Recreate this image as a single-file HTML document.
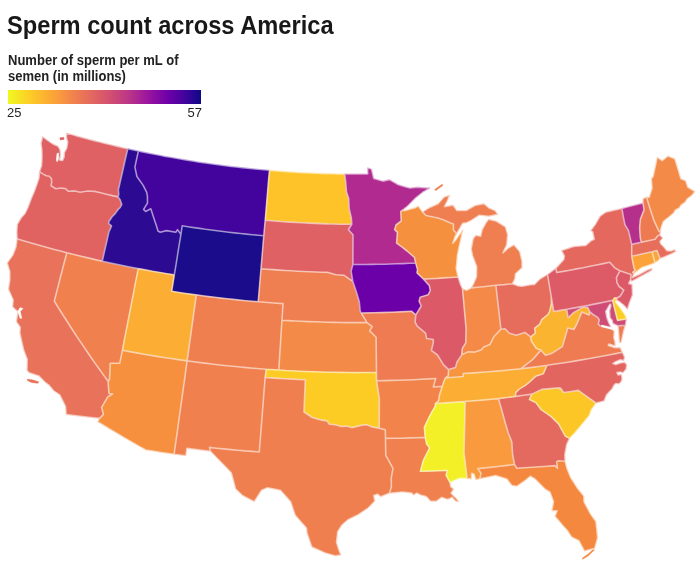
<!DOCTYPE html>
<html lang="en"><head><meta charset="utf-8"><title>Sperm count across America</title>
<style>
html,body{margin:0;padding:0;background:#fff;}
body{width:700px;height:568px;overflow:hidden;position:relative;font-family:"Liberation Sans",sans-serif;color:#181818;}
h1{position:absolute;left:7px;top:11px;margin:0;font-size:26px;line-height:28px;font-weight:bold;white-space:nowrap;transform-origin:0 0;transform:scaleX(0.91);}
.lt{position:absolute;left:7.5px;top:52px;font-size:14px;line-height:16px;font-weight:bold;color:#222;white-space:nowrap;transform-origin:0 0;transform:scaleX(0.93);}
.bar{position:absolute;left:8px;top:89.5px;width:193px;height:14.5px;background:linear-gradient(to right,#f0f921 0%,#fdca26 12%,#fb9f3a 25%,#ed7953 37%,#d8576b 50%,#bd3786 62%,#9c179e 72%,#7201a8 82%,#46039f 91%,#0d0887 100%);}
.l1,.l2{position:absolute;top:105px;font-size:13px;line-height:15px;color:#262626;}
.l1{left:7px}.l2{left:150px;width:52px;text-align:right}
svg{position:absolute;left:0;top:0}
</style></head><body>
<h1>Sperm count across America</h1>
<div class="lt">Number of sperm per mL of<br>semen (in millions)</div>
<div class="bar"></div><div class="l1">25</div><div class="l2">57</div>
<svg width="700" height="568" viewBox="0 0 700 568">
<g stroke-width="0.6" stroke-linejoin="round">
<path d="M42.6,136.5L47.1,139.9L52.9,143.9L58.0,146.2L60.0,149.6L60.6,154.7L59.5,160.0L62.6,160.5L64.1,157.0L64.3,152.5L66.8,147.9L67.7,142.2L66.4,137.6L66.5,133.1L72.0,134.6L77.6,136.2L83.1,137.7L88.7,139.2L94.2,140.6L99.8,142.0L105.4,143.4L111.0,144.8L116.6,146.1L122.2,147.4L127.8,148.7L125.9,156.8L124.0,165.0L122.2,173.2L120.3,181.4L118.4,189.7L118.8,194.2L118.2,196.9L112.3,195.6L106.4,194.2L100.6,192.8L94.7,191.4L87.7,191.0L80.1,192.3L75.1,190.9L68.4,191.3L65.5,188.6L60.8,188.0L55.8,188.8L51.0,185.8L51.7,182.2L51.5,178.6L49.2,176.2L46.3,175.8L42.7,173.9L39.5,171.7L41.5,165.8L41.9,160.8L42.0,154.8L41.8,149.6L41.0,143.4L42.6,136.5Z" fill="#df6163" stroke="#df6163"/>
<path d="M39.5,171.7L42.7,173.9L46.3,175.8L49.2,176.2L51.5,178.6L51.7,182.2L51.0,185.8L55.8,188.8L60.8,188.0L65.5,188.6L68.4,191.3L75.1,190.9L80.1,192.3L87.7,191.0L94.7,191.4L100.6,192.8L106.4,194.2L112.3,195.6L118.2,196.9L120.1,199.7L121.8,204.4L120.2,207.5L117.9,209.7L115.2,213.6L112.1,216.7L108.8,221.8L108.7,223.5L111.5,225.9L110.3,229.0L109.0,231.6L106.8,241.4L104.5,251.3L102.3,261.2L95.2,259.6L88.1,257.9L81.0,256.2L73.9,254.5L66.8,252.7L60.6,251.1L54.3,249.4L48.1,247.7L41.9,246.0L35.7,244.3L29.5,242.5L23.3,240.7L17.1,238.8L16.8,231.8L17.3,224.3L21.3,217.5L25.0,213.5L27.9,207.4L31.4,198.1L34.1,192.0L36.9,184.2L39.0,178.0L39.5,171.7Z" fill="#e06362" stroke="#e06362"/>
<path d="M17.1,238.8L23.3,240.7L29.5,242.5L35.7,244.3L41.9,246.0L48.1,247.7L54.3,249.4L60.6,251.1L66.8,252.7L64.7,260.7L62.6,268.8L60.5,276.8L58.5,284.9L56.4,292.9L54.3,301.0L58.1,307.3L62.0,313.5L66.0,319.8L70.0,326.0L74.0,332.2L78.1,338.4L82.3,344.6L86.5,350.8L90.7,357.0L95.0,363.1L99.4,369.2L103.8,375.4L108.2,381.5L108.3,384.9L109.0,393.5L112.5,394.1L107.9,396.7L101.6,407.3L103.4,414.4L99.5,418.4L91.2,417.5L82.9,416.6L74.5,415.6L66.2,414.6L65.5,406.4L59.7,394.8L53.6,390.8L49.2,385.5L44.5,381.8L38.9,376.1L29.0,372.7L27.0,370.5L27.2,359.4L23.6,349.8L21.7,341.5L19.9,333.2L20.2,327.3L16.3,321.8L17.8,311.9L12.5,306.9L13.2,300.1L8.4,289.2L9.8,280.1L9.8,271.4L7.2,262.9L12.9,254.9L15.9,247.1L17.1,238.8Z" fill="#e8735a" stroke="#e8735a"/>
<path d="M66.8,252.7L73.9,254.5L81.0,256.2L88.1,257.9L95.2,259.6L102.3,261.2L109.4,262.7L116.6,264.3L123.8,265.8L131.0,267.2L138.2,268.6L136.6,276.8L135.0,284.9L133.5,293.1L131.9,301.2L130.3,309.4L128.7,317.6L127.1,325.8L125.5,333.9L123.9,342.1L122.4,350.3L119.7,363.3L115.0,363.3L110.2,363.2L109.9,371.6L109.5,379.2L108.2,381.5L103.8,375.4L99.4,369.2L95.0,363.1L90.7,357.0L86.5,350.8L82.3,344.6L78.1,338.4L74.0,332.2L70.0,326.0L66.0,319.8L62.0,313.5L58.1,307.3L54.3,301.0L56.4,292.9L58.5,284.9L60.5,276.8L62.6,268.8L64.7,260.7L66.8,252.7Z" fill="#f0804e" stroke="#f0804e"/>
<path d="M127.8,148.7L138.4,151.0L136.6,159.1L134.9,167.2L136.9,176.5L143.2,185.4L146.7,192.3L147.4,196.3L147.5,203.0L143.6,209.4L145.6,211.5L150.8,208.8L154.2,219.3L156.0,224.5L158.0,231.0L160.2,232.2L166.5,230.6L175.8,232.3L177.5,229.6L180.9,234.5L179.2,244.6L177.6,254.7L176.0,264.8L174.3,274.9L167.1,273.7L159.9,272.5L152.6,271.3L145.4,269.9L138.2,268.6L131.0,267.2L123.8,265.8L116.6,264.3L109.4,262.7L102.3,261.2L104.5,251.3L106.8,241.4L109.0,231.6L110.3,229.0L111.5,225.9L108.7,223.5L108.8,221.8L112.1,216.7L115.2,213.6L117.9,209.7L120.2,207.5L121.8,204.4L120.1,199.7L118.2,196.9L118.8,194.2L118.4,189.7L120.3,181.4L122.2,173.2L124.0,165.0L125.9,156.8L127.8,148.7Z" fill="#2c0a92" stroke="#2c0a92"/>
<path d="M138.4,151.0L143.8,152.1L149.2,153.2L154.6,154.3L160.0,155.3L165.5,156.4L170.9,157.3L176.3,158.3L181.8,159.2L187.2,160.1L192.7,161.0L198.1,161.9L203.6,162.7L209.1,163.5L214.5,164.3L220.0,165.0L225.5,165.7L231.0,166.4L236.5,167.0L242.0,167.6L247.5,168.2L252.9,168.8L258.4,169.3L263.9,169.8L269.5,170.3L268.7,178.6L268.0,186.9L267.3,195.2L266.6,203.6L265.9,211.9L265.2,220.3L263.8,235.7L258.0,235.2L252.2,234.7L246.3,234.1L240.5,233.5L234.6,232.9L228.8,232.2L223.0,231.5L217.1,230.8L211.3,230.0L205.5,229.3L199.7,228.4L193.9,227.6L188.0,226.7L182.2,225.8L180.9,234.5L177.5,229.6L175.8,232.3L166.5,230.6L160.2,232.2L158.0,231.0L156.0,224.5L154.2,219.3L150.8,208.8L145.6,211.5L143.6,209.4L147.5,203.0L147.4,196.3L146.7,192.3L143.2,185.4L136.9,176.5L134.9,167.2L136.6,159.1L138.4,151.0Z" fill="#43049e" stroke="#43049e"/>
<path d="M180.9,234.5L182.2,225.8L188.0,226.7L193.9,227.6L199.7,228.4L205.5,229.3L211.3,230.0L217.1,230.8L223.0,231.5L228.8,232.2L234.6,232.9L240.5,233.5L246.3,234.1L252.2,234.7L258.0,235.2L263.8,235.7L263.1,243.9L262.4,252.2L261.7,260.4L261.0,268.7L260.3,276.9L259.6,285.2L258.9,293.5L258.2,301.8L252.0,301.2L245.8,300.7L239.6,300.1L233.4,299.4L227.2,298.8L221.0,298.1L214.8,297.3L208.7,296.6L202.5,295.8L196.3,294.9L190.2,294.1L184.0,293.2L177.8,292.3L171.7,291.3L173.0,283.1L174.3,274.9L176.0,264.8L177.6,254.7L179.2,244.6L180.9,234.5Z" fill="#1a0c8b" stroke="#1a0c8b"/>
<path d="M138.2,268.6L145.4,269.9L152.6,271.3L159.9,272.5L167.1,273.7L174.3,274.9L173.0,283.1L171.7,291.3L177.8,292.3L184.0,293.2L190.2,294.1L196.3,294.9L195.2,303.2L194.0,311.4L192.9,319.7L191.7,327.9L190.6,336.1L189.4,344.4L188.3,352.6L187.1,360.9L179.9,359.9L172.7,358.8L165.5,357.7L158.3,356.6L151.1,355.4L143.9,354.2L136.7,352.9L129.5,351.6L122.4,350.3L123.9,342.1L125.5,333.9L127.1,325.8L128.7,317.6L130.3,309.4L131.9,301.2L133.5,293.1L135.0,284.9L136.6,276.8L138.2,268.6Z" fill="#fbae33" stroke="#fbae33"/>
<path d="M122.4,350.3L129.5,351.6L136.7,352.9L143.9,354.2L151.1,355.4L158.3,356.6L165.5,357.7L172.7,358.8L179.9,359.9L187.1,360.9L185.9,369.4L184.8,377.9L183.6,386.4L182.4,394.9L181.2,403.4L180.0,411.8L178.8,420.3L177.7,428.8L176.5,437.3L175.3,445.7L174.1,454.2L167.0,453.2L160.0,452.2L152.9,451.1L145.8,450.0L138.8,446.1L131.8,442.1L124.9,438.1L118.0,434.0L111.1,429.9L104.2,425.8L97.4,421.7L99.5,418.4L103.4,414.4L101.6,407.3L107.9,396.7L112.5,394.1L109.0,393.5L108.3,384.9L108.2,381.5L109.5,379.2L109.9,371.6L110.2,363.2L115.0,363.3L119.7,363.3L122.4,350.3Z" fill="#f6903f" stroke="#f6903f"/>
<path d="M187.1,360.9L193.7,361.8L200.3,362.6L206.9,363.4L213.5,364.2L220.0,365.0L226.6,365.7L233.2,366.3L239.8,367.0L246.4,367.6L253.1,368.2L259.7,368.7L266.3,369.2L265.1,377.5L264.5,385.8L263.8,394.0L263.2,402.3L262.5,410.6L261.9,418.9L261.2,427.2L260.6,435.5L259.9,443.7L259.3,452.0L252.2,451.4L245.0,450.9L237.9,450.2L230.8,449.6L223.7,448.9L216.6,448.2L209.5,447.4L210.4,451.2L202.5,450.3L194.7,449.3L186.9,448.4L185.9,455.7L174.1,454.2L175.3,445.7L176.5,437.3L177.7,428.8L178.8,420.3L180.0,411.8L181.2,403.4L182.4,394.9L183.6,386.4L184.8,377.9L185.9,369.4L187.1,360.9Z" fill="#f0804e" stroke="#f0804e"/>
<path d="M196.3,294.9L202.5,295.8L208.7,296.6L214.8,297.3L221.0,298.1L227.2,298.8L233.4,299.4L239.6,300.1L245.8,300.7L252.0,301.2L258.2,301.8L264.4,302.3L270.6,302.8L276.8,303.2L283.0,303.6L282.5,311.9L282.0,320.2L281.4,328.5L280.9,336.8L280.4,345.1L279.8,353.4L279.3,361.7L278.8,370.0L266.3,369.2L259.7,368.7L253.1,368.2L246.4,367.6L239.8,367.0L233.2,366.3L226.6,365.7L220.0,365.0L213.5,364.2L206.9,363.4L200.3,362.6L193.7,361.8L187.1,360.9L188.3,352.6L189.4,344.4L190.6,336.1L191.7,327.9L192.9,319.7L194.0,311.4L195.2,303.2L196.3,294.9Z" fill="#ef7f4f" stroke="#ef7f4f"/>
<path d="M269.5,170.3L275.2,170.8L281.0,171.2L286.8,171.6L292.6,172.0L298.4,172.4L304.2,172.7L309.9,172.9L315.7,173.2L321.5,173.4L327.3,173.6L333.1,173.7L338.9,173.9L344.7,174.0L345.7,182.1L346.5,191.9L348.7,198.5L349.2,208.8L351.4,218.2L351.8,224.3L345.6,224.3L339.4,224.2L333.2,224.0L327.0,223.9L320.8,223.6L314.6,223.4L308.5,223.1L302.3,222.8L296.1,222.5L289.9,222.1L283.7,221.7L277.5,221.3L271.3,220.8L265.2,220.3L265.9,211.9L266.6,203.6L267.3,195.2L268.0,186.9L268.7,178.6L269.5,170.3Z" fill="#fdc328" stroke="#fdc328"/>
<path d="M265.2,220.3L271.3,220.8L277.5,221.3L283.7,221.7L289.9,222.1L296.1,222.5L302.3,222.8L308.5,223.1L314.6,223.4L320.8,223.6L327.0,223.9L333.2,224.0L339.4,224.2L345.6,224.3L351.8,224.3L348.4,229.7L353.0,234.7L353.0,244.6L352.9,254.5L352.9,264.5L351.1,271.1L352.8,281.2L349.8,279.4L343.8,275.2L335.9,274.7L328.1,272.4L322.0,272.2L315.9,272.0L309.8,271.8L303.7,271.5L297.6,271.2L291.5,270.8L285.4,270.5L279.3,270.1L273.2,269.6L267.1,269.2L261.0,268.7L261.7,260.4L262.4,252.2L263.1,243.9L263.8,235.7L265.2,220.3Z" fill="#df6163" stroke="#df6163"/>
<path d="M261.0,268.7L267.1,269.2L273.2,269.6L279.3,270.1L285.4,270.5L291.5,270.8L297.6,271.2L303.7,271.5L309.8,271.8L315.9,272.0L322.0,272.2L328.1,272.4L335.9,274.7L343.8,275.2L349.8,279.4L352.8,281.2L357.1,294.3L359.3,301.8L360.2,311.0L361.2,313.0L367.0,322.6L360.5,322.6L353.9,322.6L347.4,322.6L340.8,322.5L334.3,322.4L327.7,322.2L321.2,322.0L314.6,321.8L308.1,321.6L301.6,321.3L295.0,321.0L288.5,320.6L282.0,320.2L282.5,311.9L283.0,303.6L276.8,303.2L270.6,302.8L264.4,302.3L258.2,301.8L258.9,293.5L259.6,285.2L260.3,276.9L261.0,268.7Z" fill="#ef7e50" stroke="#ef7e50"/>
<path d="M282.0,320.2L288.5,320.6L295.0,321.0L301.6,321.3L308.1,321.6L314.6,321.8L321.2,322.0L327.7,322.2L334.3,322.4L340.8,322.5L347.4,322.6L353.9,322.6L360.5,322.6L367.0,322.6L372.2,326.7L369.7,330.9L376.1,337.3L376.2,346.1L376.3,354.9L376.4,363.6L376.5,372.4L369.5,372.5L362.5,372.5L355.5,372.6L348.5,372.5L341.5,372.4L334.6,372.3L327.6,372.2L320.6,372.0L313.6,371.8L306.6,371.5L299.7,371.2L292.7,370.8L285.7,370.5L278.8,370.0L279.3,361.7L279.8,353.4L280.4,345.1L280.9,336.8L281.4,328.5L282.0,320.2Z" fill="#f48a47" stroke="#f48a47"/>
<path d="M278.8,370.0L285.7,370.5L292.7,370.8L299.7,371.2L306.6,371.5L313.6,371.8L320.6,372.0L327.6,372.2L334.6,372.3L341.5,372.4L348.5,372.5L355.5,372.6L362.5,372.5L369.5,372.5L376.5,372.4L376.6,380.7L378.0,389.9L379.4,399.0L379.3,408.8L379.3,418.5L379.2,428.3L372.3,426.9L367.1,424.8L362.0,425.1L356.8,426.4L351.7,427.6L346.6,426.1L341.4,426.5L335.4,424.7L329.4,424.3L326.9,420.9L320.9,419.9L312.3,417.5L307.1,414.0L304.0,412.0L304.4,401.3L304.9,390.5L305.3,379.8L298.6,379.5L291.9,379.1L285.2,378.8L278.5,378.4L271.8,377.9L265.1,377.5L266.3,369.2L278.8,370.0Z" fill="#fccc25" stroke="#fccc25"/>
<path d="M265.1,377.5L271.8,377.9L278.5,378.4L285.2,378.8L291.9,379.1L298.6,379.5L305.3,379.8L304.9,390.5L304.4,401.3L304.0,412.0L307.1,414.0L312.3,417.5L320.9,419.9L326.9,420.9L329.4,424.3L335.4,424.7L341.4,426.5L346.6,426.1L351.7,427.6L356.8,426.4L362.0,425.1L367.1,424.8L372.3,426.9L379.2,428.3L385.3,429.7L385.5,438.4L385.6,446.9L385.8,455.4L393.0,468.4L391.2,478.4L391.4,486.7L389.4,493.3L380.6,496.8L377.5,494.2L373.8,495.6L374.9,501.0L368.5,507.8L358.3,514.7L348.0,519.8L342.0,525.0L337.7,531.8L336.5,542.2L338.6,549.1L340.9,555.0L335.6,555.9L325.1,552.9L311.8,547.1L307.0,533.0L306.4,528.1L300.8,521.7L295.2,515.3L290.7,501.9L285.5,496.1L280.4,490.3L267.6,487.7L261.6,490.3L254.2,501.8L242.3,495.4L235.6,489.0L233.5,481.0L231.3,472.9L224.2,465.6L217.1,458.2L210.4,451.2L209.5,447.4L216.6,448.2L223.7,448.9L230.8,449.6L237.9,450.2L245.0,450.9L252.2,451.4L259.3,452.0L259.9,443.7L260.6,435.5L261.2,427.2L261.9,418.9L262.5,410.6L263.2,402.3L263.8,394.0L264.5,385.8L265.1,377.5Z" fill="#f07f4f" stroke="#f07f4f"/>
<path d="M344.7,174.0L350.5,174.0L356.2,174.0L361.9,174.0L367.7,174.0L367.6,167.8L371.5,169.1L373.8,178.5L382.8,181.1L389.4,179.6L398.5,184.7L404.2,186.4L409.9,188.0L417.1,187.1L423.6,187.6L430.1,188.0L422.5,192.5L414.9,198.7L407.3,206.5L402.9,209.9L400.8,211.5L401.2,221.0L396.0,225.0L394.6,229.7L397.4,232.4L396.6,243.2L402.1,247.1L407.0,251.0L414.4,257.3L415.7,263.1L409.4,263.3L403.1,263.6L396.9,263.8L390.6,264.0L384.3,264.2L378.0,264.3L371.7,264.4L365.5,264.5L359.2,264.5L352.9,264.5L352.9,254.5L353.0,244.6L353.0,234.7L348.4,229.7L351.8,224.3L351.4,218.2L349.2,208.8L348.7,198.5L346.5,191.9L345.7,182.1L344.7,174.0Z" fill="#b02a8f" stroke="#b02a8f"/>
<path d="M352.9,264.5L359.2,264.5L365.5,264.5L371.7,264.4L378.0,264.3L384.3,264.2L390.6,264.0L396.9,263.8L403.1,263.6L409.4,263.3L415.7,263.1L417.5,269.6L417.0,272.9L423.5,279.1L429.3,285.6L430.3,290.5L428.1,294.8L420.1,297.2L419.1,301.1L421.2,306.0L415.8,314.9L411.7,311.3L405.4,311.6L399.1,311.9L392.8,312.2L386.5,312.4L380.2,312.6L373.8,312.7L367.5,312.9L361.2,313.0L360.2,311.0L359.3,301.8L357.1,294.3L352.8,281.2L351.1,271.1L352.9,264.5Z" fill="#6c00a8" stroke="#6c00a8"/>
<path d="M361.2,313.0L367.5,312.9L373.8,312.7L380.2,312.6L386.5,312.4L392.8,312.2L399.1,311.9L405.4,311.6L411.7,311.3L415.8,314.9L415.1,322.1L417.2,326.2L425.5,333.2L426.6,338.5L433.3,339.5L433.2,343.1L431.4,350.4L437.5,355.0L443.4,364.7L448.6,369.6L448.2,376.0L445.4,377.9L443.9,381.3L442.2,386.4L433.3,387.0L435.7,378.5L428.4,378.9L421.0,379.3L413.6,379.7L406.2,380.0L398.8,380.2L391.4,380.4L384.0,380.6L376.6,380.7L376.5,372.4L376.4,363.6L376.3,354.9L376.2,346.1L376.1,337.3L369.7,330.9L372.2,326.7L367.0,322.6L361.2,313.0Z" fill="#ee7b51" stroke="#ee7b51"/>
<path d="M376.6,380.7L384.0,380.6L391.4,380.4L398.8,380.2L406.2,380.0L413.6,379.7L421.0,379.3L428.4,378.9L435.7,378.5L433.3,387.0L442.2,386.4L439.5,395.0L438.5,400.9L435.3,403.5L435.4,406.0L431.7,412.1L427.4,420.6L424.3,427.4L425.2,437.4L417.3,437.7L409.3,437.9L401.4,438.2L393.4,438.3L385.5,438.4L385.3,429.7L379.2,428.3L379.3,418.5L379.3,408.8L379.4,399.0L378.0,389.9L376.6,380.7Z" fill="#f2844b" stroke="#f2844b"/>
<path d="M385.5,438.4L393.4,438.3L401.4,438.2L409.3,437.9L417.3,437.7L425.2,437.4L426.5,443.9L429.6,447.9L423.2,460.7L420.4,471.3L429.4,471.1L438.4,470.8L447.4,470.4L446.0,475.2L450.1,482.7L450.7,486.6L453.7,488.9L451.1,493.2L456.3,498.3L459.0,501.6L455.5,501.2L452.0,497.4L447.8,499.5L441.7,497.4L436.5,501.2L430.5,501.2L426.2,496.6L420.4,494.9L416.8,493.1L413.4,495.2L411.7,493.1L402.3,492.0L389.4,493.3L391.4,486.7L391.2,478.4L393.0,468.4L385.8,455.4L385.6,446.9L385.5,438.4Z" fill="#f0804e" stroke="#f0804e"/>
<path d="M435.3,403.5L442.3,403.1L449.4,402.6L456.5,402.1L463.6,401.6L465.1,403.1L464.9,411.4L464.8,419.8L464.6,428.1L464.4,436.5L464.2,444.8L464.0,453.1L465.1,461.6L466.1,470.1L467.1,478.6L459.9,478.3L454.3,480.4L450.1,482.7L446.0,475.2L447.4,470.4L438.4,470.8L429.4,471.1L420.4,471.3L423.2,460.7L429.6,447.9L426.5,443.9L425.2,437.4L424.3,427.4L427.4,420.6L431.7,412.1L435.4,406.0L435.3,403.5Z" fill="#f3f027" stroke="#f3f027"/>
<path d="M463.6,401.6L470.5,401.0L477.5,400.5L484.5,399.9L491.5,399.2L498.4,398.6L500.9,407.1L503.3,415.7L505.7,424.2L508.2,432.7L511.8,441.9L512.6,454.3L514.5,464.5L507.1,465.4L499.8,466.3L492.4,467.1L485.1,467.9L477.7,468.6L481.0,473.3L479.8,478.7L475.8,479.9L473.9,473.9L471.7,473.3L471.4,479.1L467.1,478.6L466.1,470.1L465.1,461.6L464.0,453.1L464.2,444.8L464.4,436.5L464.6,428.1L464.8,419.8L464.9,411.4L465.1,403.1L463.6,401.6Z" fill="#f99a3e" stroke="#f99a3e"/>
<path d="M498.4,398.6L507.1,397.5L515.7,396.4L523.8,395.3L531.9,394.1L529.4,399.5L536.0,402.8L541.1,409.7L551.1,416.6L558.5,423.9L565.4,436.3L569.6,438.4L566.7,444.4L564.8,454.8L565.1,461.3L558.5,460.8L556.6,461.9L557.5,468.3L554.9,465.6L547.3,466.2L539.7,466.8L532.1,467.3L524.5,467.8L516.9,468.3L514.5,464.5L512.6,454.3L511.8,441.9L508.2,432.7L505.7,424.2L503.3,415.7L500.9,407.1L498.4,398.6Z" fill="#e4695e" stroke="#e4695e"/>
<path d="M514.5,464.5L516.9,468.3L524.5,467.8L532.1,467.3L539.7,466.8L547.3,466.2L554.9,465.6L557.5,468.3L556.6,461.9L558.5,460.8L565.1,461.3L566.8,467.9L570.5,477.3L577.3,487.9L583.8,496.0L584.0,501.8L590.6,514.1L595.9,521.5L596.8,529.7L597.6,537.8L594.8,548.2L587.4,550.2L584.5,551.2L579.0,540.8L571.5,537.0L567.6,530.9L563.0,525.8L554.9,516.2L557.1,510.9L551.9,510.8L553.5,501.5L549.9,492.0L545.2,489.3L535.0,479.0L530.3,476.3L525.7,480.2L517.0,486.2L511.8,485.5L506.8,479.0L495.6,475.6L487.7,477.2L479.8,478.7L481.0,473.3L477.7,468.6L485.1,467.9L492.4,467.1L499.8,466.3L507.1,465.4L514.5,464.5Z" fill="#f4883f" stroke="#f4883f"/>
<path d="M531.9,394.1L541.6,389.4L550.3,388.6L559.1,387.7L559.6,389.3L560.8,388.2L563.5,392.5L571.0,391.5L578.4,390.4L587.3,396.8L596.2,403.1L591.2,410.1L589.4,415.4L581.3,425.3L574.8,433.1L569.6,438.4L565.4,436.3L558.5,423.9L551.1,416.6L541.1,409.7L536.0,402.8L529.4,399.5L531.9,394.1Z" fill="#fcc726" stroke="#fcc726"/>
<path d="M515.7,396.4L515.6,392.9L519.2,389.1L525.4,385.4L530.3,381.4L535.7,376.3L543.4,373.7L547.0,365.3L553.9,364.3L560.8,363.2L567.7,362.2L574.5,361.1L581.4,359.9L588.2,358.7L595.1,357.5L601.9,356.3L608.7,355.0L615.6,353.6L622.4,352.3L624.7,357.2L623.8,360.6L620.3,359.7L615.7,361.8L612.9,363.4L615.8,364.5L620.3,362.9L624.7,362.3L626.8,364.6L626.1,369.2L623.2,372.7L620.4,372.1L616.9,372.6L618.1,374.9L621.5,374.4L622.1,378.3L621.7,381.0L619.1,384.1L615.9,383.5L614.1,385.2L612.3,388.7L606.6,394.9L604.2,400.9L596.2,403.1L587.3,396.8L578.4,390.4L571.0,391.5L563.5,392.5L560.8,388.2L559.6,389.3L559.1,387.7L550.3,388.6L541.6,389.4L531.9,394.1L523.8,395.3L515.7,396.4Z" fill="#e3655f" stroke="#e3655f"/>
<path d="M445.4,377.9L454.3,377.2L463.2,376.5L463.2,373.5L470.4,373.1L477.6,372.6L484.8,372.0L492.0,371.5L499.2,370.9L506.4,370.2L513.6,369.5L520.8,368.8L527.4,367.9L533.9,367.1L540.5,366.2L547.0,365.3L543.4,373.7L535.7,376.3L530.3,381.4L525.4,385.4L519.2,389.1L515.6,392.9L515.7,396.4L507.1,397.5L498.4,398.6L491.5,399.2L484.5,399.9L477.5,400.5L470.5,401.0L463.6,401.6L456.5,402.1L449.4,402.6L442.3,403.1L435.3,403.5L438.5,400.9L439.5,395.0L442.2,386.4L443.9,381.3L445.4,377.9Z" fill="#fbae33" stroke="#fbae33"/>
<path d="M448.6,369.6L455.5,367.6L457.0,362.0L461.7,354.9L467.9,351.9L475.1,352.1L481.4,349.8L483.7,347.1L490.0,344.4L494.2,336.2L500.9,329.3L505.0,328.8L509.4,333.3L516.2,335.3L524.9,332.4L530.7,336.8L531.3,341.0L536.2,348.2L540.9,350.2L532.6,359.6L526.7,364.2L520.8,368.8L513.6,369.5L506.4,370.2L499.2,370.9L492.0,371.5L484.8,372.0L477.6,372.6L470.4,373.1L463.2,373.5L463.2,376.5L454.3,377.2L445.4,377.9L448.2,376.0L448.6,369.6Z" fill="#f7943f" stroke="#f7943f"/>
<path d="M423.5,279.1L430.4,278.7L437.3,278.4L444.3,277.9L451.2,277.5L458.1,277.0L460.7,284.9L462.5,288.7L463.4,298.7L464.3,308.7L465.2,318.7L466.1,328.7L465.8,342.9L462.4,348.2L461.7,354.9L457.0,362.0L455.5,367.6L448.6,369.6L443.4,364.7L437.5,355.0L431.4,350.4L433.2,343.1L433.3,339.5L426.6,338.5L425.5,333.2L417.2,326.2L415.1,322.1L415.8,314.9L421.2,306.0L419.1,301.1L420.1,297.2L428.1,294.8L430.3,290.5L429.3,285.6L423.5,279.1Z" fill="#dc5a68" stroke="#dc5a68"/>
<path d="M462.5,288.7L466.7,290.2L471.2,287.9L477.4,287.3L483.6,286.7L489.7,286.0L495.9,285.3L496.9,294.1L497.9,302.9L498.9,311.7L499.9,320.5L500.9,329.3L494.2,336.2L490.0,344.4L483.7,347.1L481.4,349.8L475.1,352.1L467.9,351.9L461.7,354.9L462.4,348.2L465.8,342.9L466.1,328.7L465.2,318.7L464.3,308.7L463.4,298.7L462.5,288.7Z" fill="#f48948" stroke="#f48948"/>
<path d="M495.9,285.3L504.2,284.6L512.5,283.7L518.4,286.0L522.2,286.3L530.7,284.7L534.4,284.5L539.8,279.0L547.5,274.4L549.3,285.4L551.2,296.4L551.4,303.7L549.5,311.6L548.0,314.4L541.7,319.6L539.8,324.1L534.6,328.2L535.3,333.2L530.7,336.8L524.9,332.4L516.2,335.3L509.4,333.3L505.0,328.8L500.9,329.3L499.9,320.5L498.9,311.7L497.9,302.9L496.9,294.1L495.9,285.3Z" fill="#e66c5c" stroke="#e66c5c"/>
<path d="M458.1,277.0L456.2,268.6L457.4,255.2L459.1,246.8L461.0,238.3L462.8,229.8L456.0,239.6L452.8,243.2L455.2,236.3L456.7,233.7L453.4,229.9L453.5,224.1L449.9,222.7L443.8,219.9L437.9,218.0L431.9,216.8L426.0,215.5L422.5,211.9L418.2,205.9L415.4,207.7L409.7,209.2L404.1,210.7L402.9,209.9L400.8,211.5L401.2,221.0L396.0,225.0L394.6,229.7L397.4,232.4L396.6,243.2L402.1,247.1L407.0,251.0L414.4,257.3L415.7,263.1L417.5,269.6L417.0,272.9L423.5,279.1L430.4,278.7L437.3,278.4L444.3,277.9L451.2,277.5L458.1,277.0Z" fill="#f5903f" stroke="#f5903f"/>
<path d="M422.5,211.9L429.1,207.7L438.0,203.8L444.3,196.8L449.8,195.2L447.0,201.5L444.5,206.6L453.0,205.1L456.9,210.5L466.2,210.5L474.9,205.5L483.9,203.6L489.0,208.0L495.1,210.6L497.9,214.4L488.9,216.3L479.4,215.2L470.7,220.8L466.2,222.9L462.8,223.2L456.7,233.7L453.4,229.9L453.5,224.1L449.9,222.7L443.8,219.9L437.9,218.0L431.9,216.8L426.0,215.5L422.5,211.9ZM471.2,287.9L473.5,283.7L476.5,276.7L476.7,266.7L472.5,255.5L471.2,249.0L473.1,238.8L475.7,235.2L480.6,236.3L482.2,229.5L486.1,222.4L488.6,219.2L496.5,221.2L505.4,226.7L507.7,234.7L506.7,244.9L502.9,252.9L508.3,248.0L513.9,244.7L519.7,251.4L522.0,261.2L522.0,267.9L515.5,273.8L514.9,278.9L512.5,283.7L504.2,284.6L495.9,285.3L489.7,286.0L483.6,286.7L477.4,287.3L471.2,287.9Z" fill="#ef7e50" stroke="#ef7e50"/>
<path d="M530.7,336.8L535.3,333.2L534.6,328.2L539.8,324.1L541.7,319.6L548.0,314.4L549.5,311.6L551.4,303.7L551.2,296.4L553.7,311.5L560.2,310.4L566.7,309.3L568.2,317.8L573.5,312.6L579.9,308.9L582.8,307.0L587.6,307.5L589.9,311.8L589.1,315.0L581.8,312.1L577.1,323.5L573.9,329.5L567.8,328.0L565.1,337.3L562.4,346.6L551.4,353.6L545.5,355.2L540.9,350.2L536.2,348.2L531.3,341.0L530.7,336.8Z" fill="#fbb430" stroke="#fbb430"/>
<path d="M540.9,350.2L545.5,355.2L551.4,353.6L562.4,346.6L565.1,337.3L567.8,328.0L573.9,329.5L577.1,323.5L581.8,312.1L589.1,315.0L589.9,311.8L593.4,314.8L597.8,317.4L599.3,319.9L598.3,324.0L600.0,325.8L607.5,327.5L611.5,328.5L614.3,331.5L613.8,337.2L615.2,342.7L615.1,346.1L608.8,344.0L608.3,345.5L614.5,347.6L620.3,347.6L622.4,352.3L615.6,353.6L608.7,355.0L601.9,356.3L595.1,357.5L588.2,358.7L581.4,359.9L574.5,361.1L567.7,362.2L560.8,363.2L553.9,364.3L547.0,365.3L540.5,366.2L533.9,367.1L527.4,367.9L520.8,368.8L526.7,364.2L532.6,359.6L540.9,350.2ZM618.0,325.9L618.7,333.8L619.4,342.7L621.2,342.3L623.5,331.6L625.5,325.2L618.0,325.9Z" fill="#ee7b51" stroke="#ee7b51"/>
<path d="M547.5,274.4L555.9,268.1L556.7,272.5L563.3,271.4L570.0,270.2L576.6,268.9L583.3,267.7L589.9,266.3L596.5,265.0L603.2,263.6L609.8,262.2L614.8,267.9L619.9,270.8L616.4,277.7L616.9,282.7L619.1,286.5L623.8,290.2L620.3,296.0L617.1,298.0L614.5,297.9L612.6,300.4L606.0,301.8L599.5,303.1L592.9,304.4L586.4,305.7L579.8,306.9L573.2,308.1L566.7,309.3L560.2,310.4L553.7,311.5L551.2,296.4L549.3,285.4L547.5,274.4Z" fill="#dd5b66" stroke="#dd5b66"/>
<path d="M566.7,309.3L573.2,308.1L579.8,306.9L586.4,305.7L592.9,304.4L599.5,303.1L606.0,301.8L612.6,300.4L615.0,310.4L617.5,320.4L626.4,319.0L625.5,325.2L618.0,325.9L612.9,323.6L612.1,320.2L610.1,317.9L609.5,311.1L610.9,305.3L610.0,304.3L608.7,306.3L605.7,311.5L606.9,317.7L608.6,322.3L610.3,325.7L611.5,328.5L607.5,327.5L600.0,325.8L598.3,324.0L599.3,319.9L597.8,317.4L593.4,314.8L589.9,311.8L587.6,307.5L582.8,307.0L579.9,308.9L573.5,312.6L568.2,317.8L566.7,309.3Z" fill="#cf4c74" stroke="#cf4c74"/>
<path d="M617.1,298.0L615.6,301.9L620.0,307.5L624.0,313.2L625.7,316.1L626.4,319.0L617.5,320.4L615.0,310.4L612.6,300.4L614.5,297.9L617.1,298.0Z" fill="#fcce25" stroke="#fcce25"/>
<path d="M617.1,298.0L616.7,300.2L618.5,301.1L623.5,305.1L627.5,309.4L629.4,303.0L632.6,294.9L632.1,284.4L628.7,283.5L630.6,279.6L631.0,274.4L619.9,270.8L616.4,277.7L616.9,282.7L619.1,286.5L623.8,290.2L620.3,296.0L617.1,298.0Z" fill="#dc5a68" stroke="#dc5a68"/>
<path d="M555.9,268.1L563.8,259.5L564.4,256.0L561.5,250.5L567.6,248.4L573.6,246.4L579.7,246.0L585.7,245.5L590.9,240.8L594.2,239.2L592.7,231.9L590.6,230.7L595.7,223.7L600.1,216.0L605.8,212.1L613.9,210.3L621.9,208.4L623.3,216.6L624.9,224.7L628.5,230.6L631.7,244.4L631.7,256.3L634.1,268.6L635.3,270.0L632.7,272.3L633.9,273.7L632.4,277.5L639.5,274.3L647.2,270.1L651.9,268.3L651.8,270.5L643.5,275.0L635.8,279.3L631.4,281.5L630.6,279.6L631.0,274.4L619.9,270.8L614.8,267.9L609.8,262.2L603.2,263.6L596.5,265.0L589.9,266.3L583.3,267.7L576.6,268.9L570.0,270.2L563.3,271.4L556.7,272.5L555.9,268.1Z" fill="#e4685e" stroke="#e4685e"/>
<path d="M631.7,256.3L638.5,254.8L645.3,253.3L652.1,251.8L654.7,261.7L654.3,263.2L648.2,265.4L642.1,267.5L633.9,273.7L632.7,272.3L635.3,270.0L634.1,268.6L631.7,256.3Z" fill="#fba238" stroke="#fba238"/>
<path d="M652.1,251.8L657.0,250.5L658.6,254.7L660.2,258.6L658.3,260.8L654.3,263.2L654.7,261.7L652.1,251.8Z" fill="#f9a63a" stroke="#f9a63a"/>
<path d="M631.7,244.4L641.3,242.3L648.2,240.8L655.1,239.3L657.8,235.7L660.0,235.1L662.9,237.9L660.0,241.4L660.7,243.8L664.2,247.2L667.0,250.7L670.9,250.9L674.7,249.5L675.8,251.6L671.7,253.7L667.7,255.4L663.7,257.3L660.2,258.6L658.6,254.7L657.0,250.5L652.1,251.8L645.3,253.3L638.5,254.8L631.7,256.3L631.7,244.4Z" fill="#e76e5b" stroke="#e76e5b"/>
<path d="M621.9,208.4L628.9,206.6L635.9,204.8L642.9,203.0L644.1,209.6L640.4,219.1L639.6,227.9L640.3,238.0L641.3,242.3L631.7,244.4L628.5,230.6L624.9,224.7L623.3,216.6L621.9,208.4Z" fill="#b5308a" stroke="#b5308a"/>
<path d="M642.9,203.0L643.0,198.8L646.4,197.1L650.4,209.7L654.0,220.7L658.9,231.1L660.5,231.5L660.0,235.1L657.8,235.7L655.1,239.3L648.2,240.8L641.3,242.3L640.3,238.0L639.6,227.9L640.4,219.1L644.1,209.6L642.9,203.0Z" fill="#ee7a52" stroke="#ee7a52"/>
<path d="M646.4,197.1L649.2,197.2L652.1,187.9L651.3,178.7L653.1,176.5L655.2,166.8L657.3,157.2L662.2,160.6L667.9,156.0L674.8,158.7L677.9,168.7L680.9,178.7L685.7,180.7L687.7,187.0L695.0,191.6L692.3,195.1L687.1,199.1L685.2,202.2L680.8,205.5L679.4,207.9L675.5,209.9L673.6,213.2L669.9,216.3L663.3,221.6L661.2,227.4L660.5,231.5L658.9,231.1L654.0,220.7L650.4,209.7L646.4,197.1Z" fill="#f48a47" stroke="#f48a47"/>
<path d="M612.1,329.4L607.7,328.3L601.7,326.8L601.6,325.1L607.5,326.4L611.3,327.5Z" fill="#ffffff" stroke="#ffffff"/>
<path d="M60.0,137.8L63.7,137.4L64.1,139.3L60.3,139.9Z" fill="#df6163" stroke="#df6163"/>
<path d="M57.0,153.6L58.6,153.1L58.4,159.1L57.2,161.7L56.4,160.4Z" fill="#ffffff" stroke="#ffffff"/>
<path d="M27.5,379.2L33.0,380.1L38.8,381.9L37.8,383.2L31.6,382.5L27.2,380.3Z" fill="#e8735a" stroke="#e8735a"/>
<path d="M17.7,311.5L20.1,307.7L22.9,308.5L20.2,311.5L21.7,318.2L20.1,318.2L18.3,312.7Z" fill="#ffffff" stroke="#ffffff"/>
<path d="M434.7,189.6L442.2,184.3L442.8,185.4L435.9,190.5Z" fill="#ef7e50" stroke="#ef7e50"/>
<path d="M594.3,549.9L588.3,555.8L582.6,559.2L582.5,558.1L588.0,554.2L593.4,549.2Z" fill="#f4883f" stroke="#f4883f"/>
</g>
<path d="M479.8,478.7L475.8,479.9L473.9,473.9L471.7,473.3L471.4,479.1L467.1,478.6M514.5,464.5L507.1,465.4L499.8,466.3L492.4,467.1L485.1,467.9L477.7,468.6L481.0,473.3L479.8,478.7M498.4,398.6L500.9,407.1L503.3,415.7L505.7,424.2L508.2,432.7L511.8,441.9L512.6,454.3L514.5,464.5M463.6,401.6L470.5,401.0L477.5,400.5L484.5,399.9L491.5,399.2L498.4,398.6M425.2,437.4L417.3,437.7L409.3,437.9L401.4,438.2L393.4,438.3L385.5,438.4M435.3,403.5L435.4,406.0L431.7,412.1L427.4,420.6L424.3,427.4L425.2,437.4M442.2,386.4L439.5,395.0L438.5,400.9L435.3,403.5M99.5,418.4L97.4,421.7L104.2,425.8L111.1,429.9L118.0,434.0L124.9,438.1L131.8,442.1L138.8,446.1L145.8,450.0L152.9,451.1L160.0,452.2L167.0,453.2L174.1,454.2M187.1,360.9L185.9,369.4L184.8,377.9L183.6,386.4L182.4,394.9L181.2,403.4L180.0,411.8L178.8,420.3L177.7,428.8L176.5,437.3L175.3,445.7L174.1,454.2M108.2,381.5L108.3,384.9L109.0,393.5L112.5,394.1L107.9,396.7L101.6,407.3L103.4,414.4L99.5,418.4M17.1,238.8L15.9,247.1L12.9,254.9L7.2,262.9L9.8,271.4L9.8,280.1L8.4,289.2L13.2,300.1L12.5,306.9L17.8,311.9L16.3,321.8L20.2,327.3L19.9,333.2L21.7,341.5L23.6,349.8L27.2,359.4L27.0,370.5L29.0,372.7L38.9,376.1L44.5,381.8L49.2,385.5L53.6,390.8L59.7,394.8L65.5,406.4L66.2,414.6M66.2,414.6L74.5,415.6L82.9,416.6L91.2,417.5L99.5,418.4M66.8,252.7L64.7,260.7L62.6,268.8L60.5,276.8L58.5,284.9L56.4,292.9L54.3,301.0L58.1,307.3L62.0,313.5L66.0,319.8L70.0,326.0L74.0,332.2L78.1,338.4L82.3,344.6L86.5,350.8L90.7,357.0L95.0,363.1L99.4,369.2L103.8,375.4L108.2,381.5M278.8,370.0L279.3,361.7L279.8,353.4L280.4,345.1L280.9,336.8L281.4,328.5L282.0,320.2M283.0,303.6L276.8,303.2L270.6,302.8L264.4,302.3L258.2,301.8M282.0,320.2L282.5,311.9L283.0,303.6M266.3,369.2L278.8,370.0M258.2,301.8L252.0,301.2L245.8,300.7L239.6,300.1L233.4,299.4L227.2,298.8L221.0,298.1L214.8,297.3L208.7,296.6L202.5,295.8L196.3,294.9M654.3,263.2L648.2,265.4L642.1,267.5L633.9,273.7M631.7,256.3L638.5,254.8L645.3,253.3L652.1,251.8M652.1,251.8L654.7,261.7L654.3,263.2M617.1,298.0L615.6,301.9L620.0,307.5L624.0,313.2L625.7,316.1L626.4,319.0M565.1,461.3L566.8,467.9L570.5,477.3L577.3,487.9L583.8,496.0L584.0,501.8L590.6,514.1L595.9,521.5L596.8,529.7L597.6,537.8L594.8,548.2L587.4,550.2L584.5,551.2L579.0,540.8L571.5,537.0L567.6,530.9L563.0,525.8L554.9,516.2L557.1,510.9L551.9,510.8L553.5,501.5L549.9,492.0L545.2,489.3L535.0,479.0L530.3,476.3L525.7,480.2L517.0,486.2L511.8,485.5L506.8,479.0L495.6,475.6L487.7,477.2L479.8,478.7M569.6,438.4L566.7,444.4L564.8,454.8L565.1,461.3M514.5,464.5L516.9,468.3L524.5,467.8L532.1,467.3L539.7,466.8L547.3,466.2L554.9,465.6L557.5,468.3L556.6,461.9L558.5,460.8L565.1,461.3M515.7,396.4L523.8,395.3L531.9,394.1M531.9,394.1L529.4,399.5L536.0,402.8L541.1,409.7L551.1,416.6L558.5,423.9L565.4,436.3L569.6,438.4M498.4,398.6L507.1,397.5L515.7,396.4M423.5,279.1L429.3,285.6L430.3,290.5L428.1,294.8L420.1,297.2L419.1,301.1L421.2,306.0L415.8,314.9M415.8,314.9L411.7,311.3L405.4,311.6L399.1,311.9L392.8,312.2L386.5,312.4L380.2,312.6L373.8,312.7L367.5,312.9L361.2,313.0M415.7,263.1L417.5,269.6L417.0,272.9L423.5,279.1M180.9,234.5L177.5,229.6L175.8,232.3L166.5,230.6L160.2,232.2L158.0,231.0L156.0,224.5L154.2,219.3L150.8,208.8L145.6,211.5L143.6,209.4L147.5,203.0L147.4,196.3L146.7,192.3L143.2,185.4L136.9,176.5L134.9,167.2L136.6,159.1L138.4,151.0M127.8,148.7L138.4,151.0M102.3,261.2L109.4,262.7L116.6,264.3L123.8,265.8L131.0,267.2L138.2,268.6M138.2,268.6L145.4,269.9L152.6,271.3L159.9,272.5L167.1,273.7L174.3,274.9M461.7,354.9L462.4,348.2L465.8,342.9L466.1,328.7L465.2,318.7L464.3,308.7L463.4,298.7L462.5,288.7M462.5,288.7L460.7,284.9L458.1,277.0M458.1,277.0L451.2,277.5L444.3,277.9L437.3,278.4L430.4,278.7L423.5,279.1M462.5,288.7L466.7,290.2L471.2,287.9M471.2,287.9L477.4,287.3L483.6,286.7L489.7,286.0L495.9,285.3M495.9,285.3L496.9,294.1L497.9,302.9L498.9,311.7L499.9,320.5L500.9,329.3M367.0,322.6L372.2,326.7L369.7,330.9L376.1,337.3L376.2,346.1L376.3,354.9L376.4,363.6L376.5,372.4M376.5,372.4L369.5,372.5L362.5,372.5L355.5,372.6L348.5,372.5L341.5,372.4L334.6,372.3L327.6,372.2L320.6,372.0L313.6,371.8L306.6,371.5L299.7,371.2L292.7,370.8L285.7,370.5L278.8,370.0M448.6,369.6L455.5,367.6L457.0,362.0L461.7,354.9M461.7,354.9L467.9,351.9L475.1,352.1L481.4,349.8L483.7,347.1L490.0,344.4L494.2,336.2L500.9,329.3M500.9,329.3L505.0,328.8L509.4,333.3L516.2,335.3L524.9,332.4L530.7,336.8M540.9,350.2L532.6,359.6L526.7,364.2L520.8,368.8M530.7,336.8L531.3,341.0L536.2,348.2L540.9,350.2M450.1,482.7L450.7,486.6L453.7,488.9L451.1,493.2L456.3,498.3L459.0,501.6L455.5,501.2L452.0,497.4L447.8,499.5L441.7,497.4L436.5,501.2L430.5,501.2L426.2,496.6L420.4,494.9L416.8,493.1L413.4,495.2L411.7,493.1L402.3,492.0L389.4,493.3M420.4,471.3L429.4,471.1L438.4,470.8L447.4,470.4M447.4,470.4L446.0,475.2L450.1,482.7M425.2,437.4L426.5,443.9L429.6,447.9L423.2,460.7L420.4,471.3M660.0,235.1L662.9,237.9L660.0,241.4L660.7,243.8L664.2,247.2L667.0,250.7L670.9,250.9L674.7,249.5L675.8,251.6L671.7,253.7L667.7,255.4L663.7,257.3L660.2,258.6M641.3,242.3L648.2,240.8L655.1,239.3L657.8,235.7L660.0,235.1M631.7,244.4L641.3,242.3M610.0,304.3L610.9,305.3L609.5,311.1L610.1,317.9L612.1,320.2L612.9,323.6L618.0,325.9M611.5,328.5L610.3,325.7L608.6,322.3L606.9,317.7L605.7,311.5L608.7,306.3L610.0,304.3M625.5,325.2L626.4,319.0M626.4,319.0L617.5,320.4L615.0,310.4L612.6,300.4M618.0,325.9L625.5,325.2M695.0,191.6L692.3,195.1L687.1,199.1L685.2,202.2L680.8,205.5L679.4,207.9L675.5,209.9L673.6,213.2L669.9,216.3L663.3,221.6L661.2,227.4L660.5,231.5M646.4,197.1L649.2,197.2L652.1,187.9L651.3,178.7L653.1,176.5L655.2,166.8L657.3,157.2L662.2,160.6L667.9,156.0L674.8,158.7L677.9,168.7L680.9,178.7L685.7,180.7L687.7,187.0L695.0,191.6M471.2,287.9L473.5,283.7L476.5,276.7L476.7,266.7L472.5,255.5L471.2,249.0L473.1,238.8L475.7,235.2L480.6,236.3L482.2,229.5L486.1,222.4L488.6,219.2L496.5,221.2L505.4,226.7L507.7,234.7L506.7,244.9L502.9,252.9L508.3,248.0L513.9,244.7L519.7,251.4L522.0,261.2L522.0,267.9L515.5,273.8L514.9,278.9L512.5,283.7M422.5,211.9L429.1,207.7L438.0,203.8L444.3,196.8L449.8,195.2L447.0,201.5L444.5,206.6L453.0,205.1L456.9,210.5L466.2,210.5L474.9,205.5L483.9,203.6L489.0,208.0L495.1,210.6L497.9,214.4L488.9,216.3L479.4,215.2L470.7,220.8L466.2,222.9L462.8,223.2L456.7,233.7M415.7,263.1L409.4,263.3L403.1,263.6L396.9,263.8L390.6,264.0L384.3,264.2L378.0,264.3L371.7,264.4L365.5,264.5L359.2,264.5L352.9,264.5M344.7,174.0L350.5,174.0L356.2,174.0L361.9,174.0L367.7,174.0L367.6,167.8L371.5,169.1L373.8,178.5L382.8,181.1L389.4,179.6L398.5,184.7L404.2,186.4L409.9,188.0L417.1,187.1L423.6,187.6L430.1,188.0M430.1,188.0L422.5,192.5L414.9,198.7L407.3,206.5L402.9,209.9M402.9,209.9L400.8,211.5L401.2,221.0L396.0,225.0L394.6,229.7L397.4,232.4L396.6,243.2L402.1,247.1L407.0,251.0L414.4,257.3L415.7,263.1M442.2,386.4L433.3,387.0L435.7,378.5L428.4,378.9L421.0,379.3L413.6,379.7L406.2,380.0L398.8,380.2L391.4,380.4L384.0,380.6L376.6,380.7M415.8,314.9L415.1,322.1L417.2,326.2L425.5,333.2L426.6,338.5L433.3,339.5L433.2,343.1L431.4,350.4L437.5,355.0L443.4,364.7L448.6,369.6M448.6,369.6L448.2,376.0L445.4,377.9M445.4,377.9L443.9,381.3L442.2,386.4M463.6,401.6L465.1,403.1L464.9,411.4L464.8,419.8L464.6,428.1L464.4,436.5L464.2,444.8L464.0,453.1L465.1,461.6L466.1,470.1L467.1,478.6M467.1,478.6L459.9,478.3L454.3,480.4L450.1,482.7M435.3,403.5L442.3,403.1L449.4,402.6L456.5,402.1L463.6,401.6M138.4,151.0L143.8,152.1L149.2,153.2L154.6,154.3L160.0,155.3L165.5,156.4L170.9,157.3L176.3,158.3L181.8,159.2L187.2,160.1L192.7,161.0L198.1,161.9L203.6,162.7L209.1,163.5L214.5,164.3L220.0,165.0L225.5,165.7L231.0,166.4L236.5,167.0L242.0,167.6L247.5,168.2L252.9,168.8L258.4,169.3L263.9,169.8L269.5,170.3M269.5,170.3L268.7,178.6L268.0,186.9L267.3,195.2L266.6,203.6L265.9,211.9L265.2,220.3M265.2,220.3L263.8,235.7M622.4,352.3L624.7,357.2L623.8,360.6L620.3,359.7L615.7,361.8L612.9,363.4L615.8,364.5L620.3,362.9L624.7,362.3L626.8,364.6L626.1,369.2L623.2,372.7L620.4,372.1L616.9,372.6L618.1,374.9L621.5,374.4L622.1,378.3L621.7,381.0L619.1,384.1L615.9,383.5L614.1,385.2L612.3,388.7L606.6,394.9L604.2,400.9L596.2,403.1M515.7,396.4L515.6,392.9L519.2,389.1L525.4,385.4L530.3,381.4L535.7,376.3L543.4,373.7L547.0,365.3M547.0,365.3L553.9,364.3L560.8,363.2L567.7,362.2L574.5,361.1L581.4,359.9L588.2,358.7L595.1,357.5L601.9,356.3L608.7,355.0L615.6,353.6L622.4,352.3M344.7,174.0L345.7,182.1L346.5,191.9L348.7,198.5L349.2,208.8L351.4,218.2L351.8,224.3M269.5,170.3L275.2,170.8L281.0,171.2L286.8,171.6L292.6,172.0L298.4,172.4L304.2,172.7L309.9,172.9L315.7,173.2L321.5,173.4L327.3,173.6L333.1,173.7L338.9,173.9L344.7,174.0M265.2,220.3L271.3,220.8L277.5,221.3L283.7,221.7L289.9,222.1L296.1,222.5L302.3,222.8L308.5,223.1L314.6,223.4L320.8,223.6L327.0,223.9L333.2,224.0L339.4,224.2L345.6,224.3L351.8,224.3M352.8,281.2L357.1,294.3L359.3,301.8L360.2,311.0L361.2,313.0M367.0,322.6L360.5,322.6L353.9,322.6L347.4,322.6L340.8,322.5L334.3,322.4L327.7,322.2L321.2,322.0L314.6,321.8L308.1,321.6L301.6,321.3L295.0,321.0L288.5,320.6L282.0,320.2M361.2,313.0L367.0,322.6M660.5,231.5L660.0,235.1M646.4,197.1L650.4,209.7L654.0,220.7L658.9,231.1L660.5,231.5M642.9,203.0L643.0,198.8L646.4,197.1M617.1,298.0L616.7,300.2L618.5,301.1L623.5,305.1L627.5,309.4L629.4,303.0L632.6,294.9L632.1,284.4L628.7,283.5L630.6,279.6L631.0,274.4M631.0,274.4L619.9,270.8M187.1,360.9L193.7,361.8L200.3,362.6L206.9,363.4L213.5,364.2L220.0,365.0L226.6,365.7L233.2,366.3L239.8,367.0L246.4,367.6L253.1,368.2L259.7,368.7L266.3,369.2M174.1,454.2L185.9,455.7L186.9,448.4L194.7,449.3L202.5,450.3L210.4,451.2M265.1,377.5L266.3,369.2M259.3,452.0L259.9,443.7L260.6,435.5L261.2,427.2L261.9,418.9L262.5,410.6L263.2,402.3L263.8,394.0L264.5,385.8L265.1,377.5M210.4,451.2L209.5,447.4L216.6,448.2L223.7,448.9L230.8,449.6L237.9,450.2L245.0,450.9L252.2,451.4L259.3,452.0M122.4,350.3L119.7,363.3L115.0,363.3L110.2,363.2L109.9,371.6L109.5,379.2L108.2,381.5M138.2,268.6L136.6,276.8L135.0,284.9L133.5,293.1L131.9,301.2L130.3,309.4L128.7,317.6L127.1,325.8L125.5,333.9L123.9,342.1L122.4,350.3M633.9,273.7L632.4,277.5L639.5,274.3L647.2,270.1L651.9,268.3L651.8,270.5L643.5,275.0L635.8,279.3L631.4,281.5L630.6,279.6L631.0,274.4M631.7,256.3L634.1,268.6L635.3,270.0L632.7,272.3L633.9,273.7M555.9,268.1L563.8,259.5L564.4,256.0L561.5,250.5L567.6,248.4L573.6,246.4L579.7,246.0L585.7,245.5L590.9,240.8L594.2,239.2L592.7,231.9L590.6,230.7L595.7,223.7L600.1,216.0L605.8,212.1M631.7,244.4L631.7,256.3M605.8,212.1L613.9,210.3L621.9,208.4M621.9,208.4L623.3,216.6L624.9,224.7L628.5,230.6L631.7,244.4M512.5,283.7L518.4,286.0L522.2,286.3L530.7,284.7L534.4,284.5L539.8,279.0L547.5,274.4M495.9,285.3L504.2,284.6L512.5,283.7M547.5,274.4L549.3,285.4L551.2,296.4M551.2,296.4L551.4,303.7L549.5,311.6L548.0,314.4L541.7,319.6L539.8,324.1L534.6,328.2L535.3,333.2L530.7,336.8M376.6,380.7L378.0,389.9L379.4,399.0L379.3,408.8L379.3,418.5L379.2,428.3M376.5,372.4L376.6,380.7M304.0,412.0L304.4,401.3L304.9,390.5L305.3,379.8L298.6,379.5L291.9,379.1L285.2,378.8L278.5,378.4L271.8,377.9L265.1,377.5M379.2,428.3L372.3,426.9L367.1,424.8L362.0,425.1L356.8,426.4L351.7,427.6L346.6,426.1L341.4,426.5L335.4,424.7L329.4,424.3L326.9,420.9L320.9,419.9L312.3,417.5L307.1,414.0L304.0,412.0M17.1,238.8L23.3,240.7L29.5,242.5L35.7,244.3L41.9,246.0L48.1,247.7L54.3,249.4L60.6,251.1L66.8,252.7M39.5,171.7L39.0,178.0L36.9,184.2L34.1,192.0L31.4,198.1L27.9,207.4L25.0,213.5L21.3,217.5L17.3,224.3L16.8,231.8L17.1,238.8M118.2,196.9L120.1,199.7L121.8,204.4L120.2,207.5L117.9,209.7L115.2,213.6L112.1,216.7L108.8,221.8L108.7,223.5L111.5,225.9L110.3,229.0L109.0,231.6L106.8,241.4L104.5,251.3L102.3,261.2M66.8,252.7L73.9,254.5L81.0,256.2L88.1,257.9L95.2,259.6L102.3,261.2M617.1,298.0L614.5,297.9L612.6,300.4M547.5,274.4L555.9,268.1M612.6,300.4L606.0,301.8L599.5,303.1L592.9,304.4L586.4,305.7L579.8,306.9L573.2,308.1L566.7,309.3M619.9,270.8L616.4,277.7L616.9,282.7L619.1,286.5L623.8,290.2L620.3,296.0L617.1,298.0M555.9,268.1L556.7,272.5L563.3,271.4L570.0,270.2L576.6,268.9L583.3,267.7L589.9,266.3L596.5,265.0L603.2,263.6L609.8,262.2L614.8,267.9L619.9,270.8M566.7,309.3L560.2,310.4L553.7,311.5L551.2,296.4M660.2,258.6L658.3,260.8L654.3,263.2M652.1,251.8L657.0,250.5L658.6,254.7L660.2,258.6M596.2,403.1L591.2,410.1L589.4,415.4L581.3,425.3L574.8,433.1L569.6,438.4M531.9,394.1L541.6,389.4L550.3,388.6L559.1,387.7L559.6,389.3L560.8,388.2L563.5,392.5L571.0,391.5L578.4,390.4L587.3,396.8L596.2,403.1M352.9,264.5L351.1,271.1L352.8,281.2M351.8,224.3L348.4,229.7L353.0,234.7L353.0,244.6L352.9,254.5L352.9,264.5M352.8,281.2L349.8,279.4L343.8,275.2L335.9,274.7L328.1,272.4L322.0,272.2L315.9,272.0L309.8,271.8L303.7,271.5L297.6,271.2L291.5,270.8L285.4,270.5L279.3,270.1L273.2,269.6L267.1,269.2L261.0,268.7M520.8,368.8L513.6,369.5L506.4,370.2L499.2,370.9L492.0,371.5L484.8,372.0L477.6,372.6L470.4,373.1L463.2,373.5L463.2,376.5L454.3,377.2L445.4,377.9M547.0,365.3L540.5,366.2L533.9,367.1L527.4,367.9L520.8,368.8M379.2,428.3L385.3,429.7L385.5,438.4M389.4,493.3L380.6,496.8L377.5,494.2L373.8,495.6L374.9,501.0L368.5,507.8L358.3,514.7L348.0,519.8L342.0,525.0L337.7,531.8L336.5,542.2L338.6,549.1L340.9,555.0M385.5,438.4L385.6,446.9L385.8,455.4L393.0,468.4L391.2,478.4L391.4,486.7L389.4,493.3M340.9,555.0L335.6,555.9L325.1,552.9L311.8,547.1L307.0,533.0L306.4,528.1L300.8,521.7L295.2,515.3L290.7,501.9L285.5,496.1L280.4,490.3L267.6,487.7L261.6,490.3L254.2,501.8L242.3,495.4L235.6,489.0L233.5,481.0L231.3,472.9L224.2,465.6L217.1,458.2L210.4,451.2M122.4,350.3L129.5,351.6L136.7,352.9L143.9,354.2L151.1,355.4L158.3,356.6L165.5,357.7L172.7,358.8L179.9,359.9L187.1,360.9M196.3,294.9L195.2,303.2L194.0,311.4L192.9,319.7L191.7,327.9L190.6,336.1L189.4,344.4L188.3,352.6L187.1,360.9M171.7,291.3L177.8,292.3L184.0,293.2L190.2,294.1L196.3,294.9M174.3,274.9L173.0,283.1L171.7,291.3M611.5,328.5L614.3,331.5L613.8,337.2L615.2,342.7L615.1,346.1L608.8,344.0L608.3,345.5L614.5,347.6L620.3,347.6L622.4,352.3M618.0,325.9L618.7,333.8L619.4,342.7L621.2,342.3L623.5,331.6L625.5,325.2M589.9,311.8L593.4,314.8L597.8,317.4L599.3,319.9L598.3,324.0L600.0,325.8L607.5,327.5L611.5,328.5M621.9,208.4L628.9,206.6L635.9,204.8L642.9,203.0M642.9,203.0L644.1,209.6L640.4,219.1L639.6,227.9L640.3,238.0L641.3,242.3M42.6,136.5L41.0,143.4L41.8,149.6L42.0,154.8L41.9,160.8L41.5,165.8L39.5,171.7M127.8,148.7L125.9,156.8L124.0,165.0L122.2,173.2L120.3,181.4L118.4,189.7L118.8,194.2L118.2,196.9M66.5,133.1L72.0,134.6L77.6,136.2L83.1,137.7L88.7,139.2L94.2,140.6L99.8,142.0L105.4,143.4L111.0,144.8L116.6,146.1L122.2,147.4L127.8,148.7M39.5,171.7L42.7,173.9L46.3,175.8L49.2,176.2L51.5,178.6L51.7,182.2L51.0,185.8L55.8,188.8L60.8,188.0L65.5,188.6L68.4,191.3L75.1,190.9L80.1,192.3L87.7,191.0L94.7,191.4L100.6,192.8L106.4,194.2L112.3,195.6L118.2,196.9M42.6,136.5L47.1,139.9L52.9,143.9L58.0,146.2L60.0,149.6L60.6,154.7L59.5,160.0L62.6,160.5L64.1,157.0L64.3,152.5L66.8,147.9L67.7,142.2L66.4,137.6L66.5,133.1M458.1,277.0L456.2,268.6L457.4,255.2L459.1,246.8L461.0,238.3L462.8,229.8L456.0,239.6L452.8,243.2L455.2,236.3L456.7,233.7M456.7,233.7L453.4,229.9L453.5,224.1L449.9,222.7L443.8,219.9L437.9,218.0L431.9,216.8L426.0,215.5L422.5,211.9M422.5,211.9L418.2,205.9L415.4,207.7L409.7,209.2L404.1,210.7L402.9,209.9M566.7,309.3L568.2,317.8L573.5,312.6L579.9,308.9L582.8,307.0L587.6,307.5L589.9,311.8M589.9,311.8L589.1,315.0L581.8,312.1L577.1,323.5L573.9,329.5L567.8,328.0L565.1,337.3L562.4,346.6L551.4,353.6L545.5,355.2L540.9,350.2M174.3,274.9L176.0,264.8L177.6,254.7L179.2,244.6L180.9,234.5M263.8,235.7L258.0,235.2L252.2,234.7L246.3,234.1L240.5,233.5L234.6,232.9L228.8,232.2L223.0,231.5L217.1,230.8L211.3,230.0L205.5,229.3L199.7,228.4L193.9,227.6L188.0,226.7L182.2,225.8M180.9,234.5L182.2,225.8M258.2,301.8L258.9,293.5L259.6,285.2L260.3,276.9L261.0,268.7M261.0,268.7L261.7,260.4L262.4,252.2L263.1,243.9L263.8,235.7" fill="none" stroke="#ffffff" stroke-opacity="0.55" stroke-width="1.6" stroke-linejoin="round" stroke-linecap="round"/>
</svg>
</body></html>
